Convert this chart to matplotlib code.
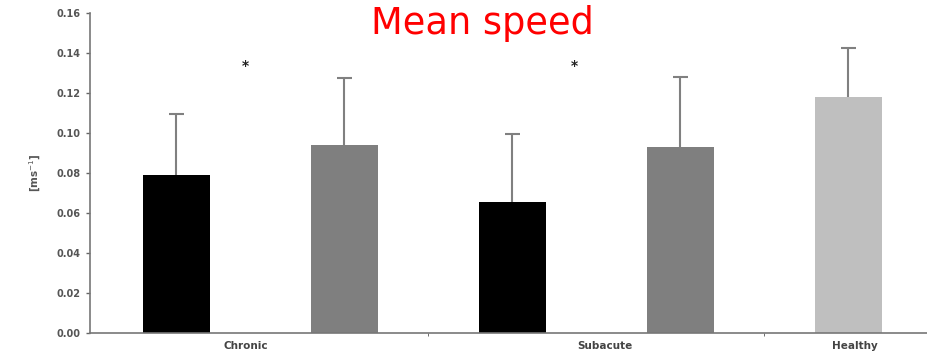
import matplotlib.pyplot as plt

groups = ["Chronic", "Subacute", "Healthy"]
means = [0.079, 0.094, 0.0655, 0.093, 0.118]
sds = [0.0305, 0.0335, 0.034, 0.035, 0.0245]
colors = ["black", "#7f7f7f", "black", "#7f7f7f", "#bfbfbf"]
label_pos = [0.41, 2.55, 4.04]
star_pos = [0.41, 2.37]

fig = plt.figure(figsize=(9.27, 3.59), dpi=100)
ax = fig.add_axes([0.0971, 0.0724, 0.9029, 0.8914])

x = list(range(len(means)))
ax.bar(x, means, width=0.4, color=colors, zorder=2)

# upper-only error bars with a cap at the top
tops = [m + s for m, s in zip(means, sds)]
ax.vlines(x, means, tops, color="#808080", linewidth=1.5, zorder=1)
ax.hlines(tops, [i - 0.045 for i in x], [i + 0.045 for i in x],
          color="#808080", linewidth=1.5, zorder=1)

for p in star_pos:
    ax.text(p, 0.1335, "*", ha="center", va="center", fontsize=10,
            fontweight="bold", color="#222222")

ax.set_xlim(-0.515, 4.47)
ax.set_ylim(0, 0.16)
ax.set_yticks([i * 0.02 for i in range(9)])
ax.set_yticklabels([f"{i * 0.02:.2f}" for i in range(9)],
                   fontsize=7, fontweight="bold", color="#555555")
ax.set_xticks(label_pos)
ax.set_xticklabels(groups, fontsize=7.5, fontweight="bold", color="#444444")
ax.set_xticks([1.5, 3.5], minor=True)
ax.tick_params(axis="x", which="major", length=0, pad=6)
ax.tick_params(axis="x", which="minor", length=2, color="#555555")
ax.tick_params(axis="y", length=3, color="#666666", width=1)
ax.set_ylabel("[ms$^{-1}$]", fontsize=7.5, fontweight="bold", color="#555555", labelpad=10)

for side in ["top", "right"]:
    ax.spines[side].set_visible(False)
for side in ["left", "bottom"]:
    ax.spines[side].set_color("#777777")
    ax.spines[side].set_linewidth(1.2)

fig.text(0.52, 0.935, "Mean speed", color="red", fontsize=26.5,
         ha="center", va="center")

fig.savefig("out.png", dpi=100)
